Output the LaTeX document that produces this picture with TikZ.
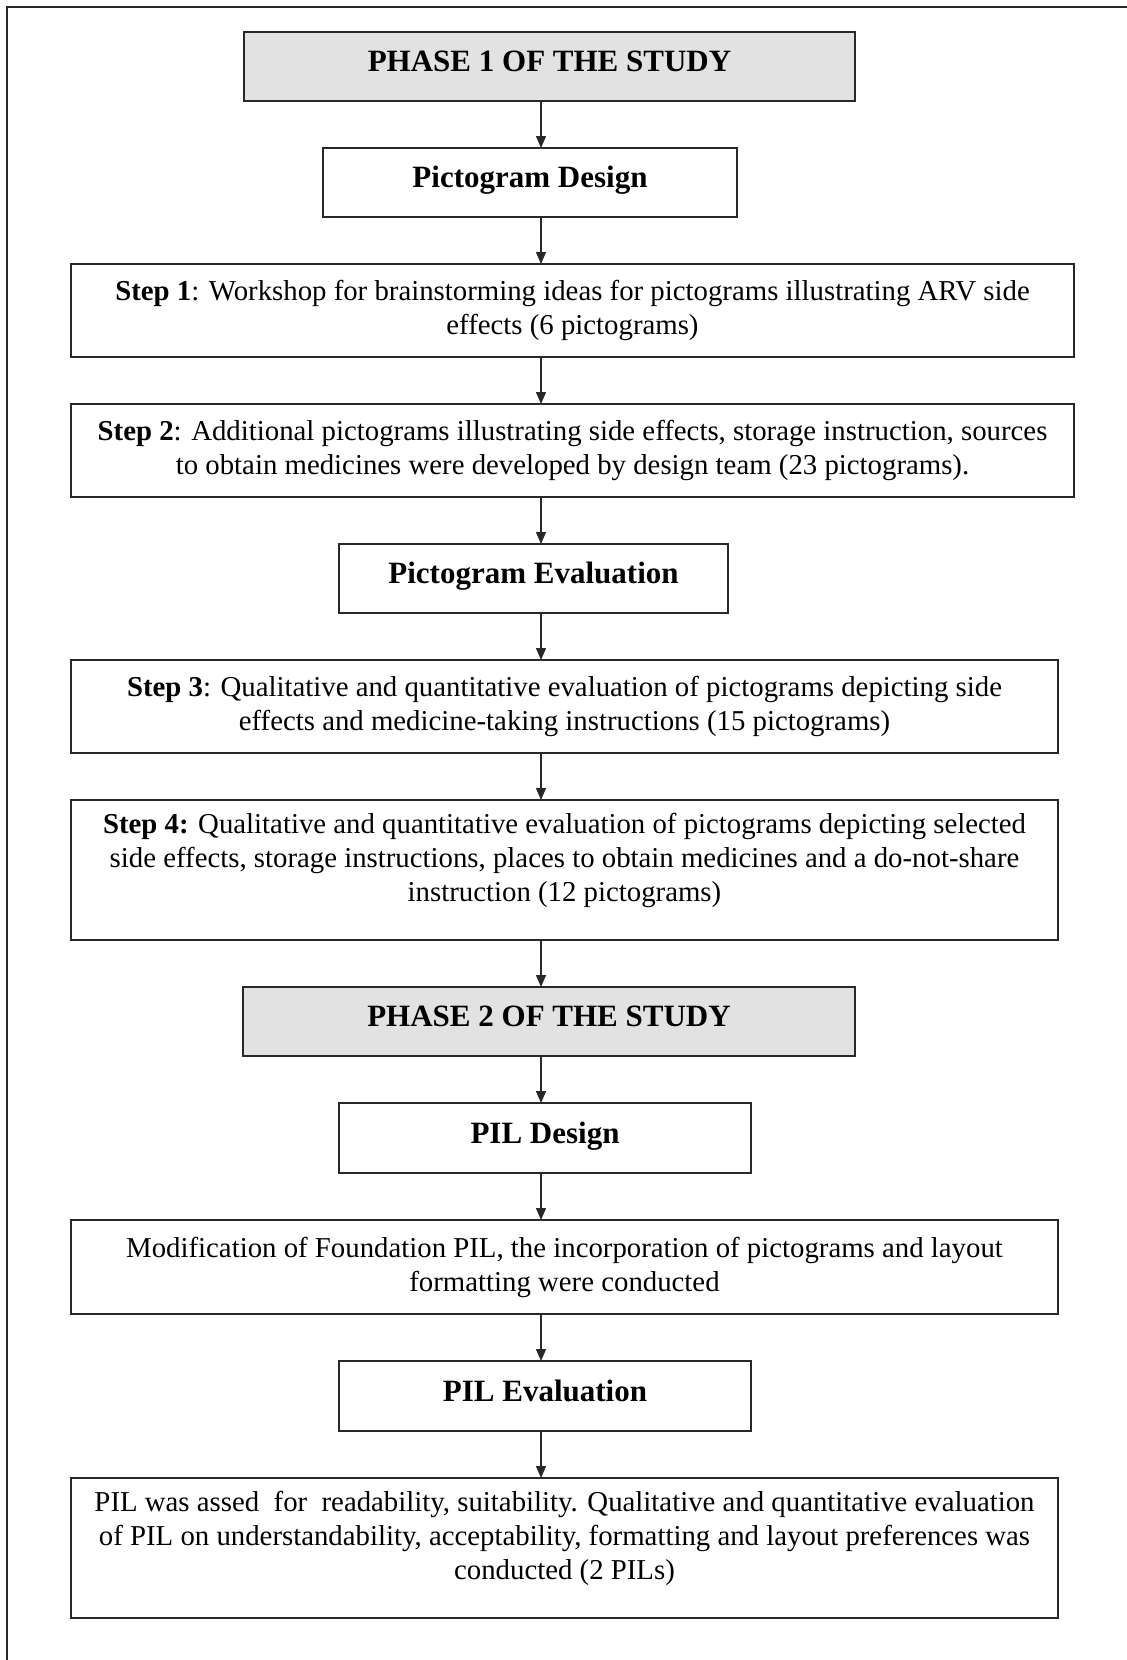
\documentclass[tikz,border=0pt]{standalone}
\usepackage{fontspec}
\setmainfont{Liberation Serif}
\usepackage{tikz}
\usetikzlibrary{arrows.meta,positioning}
\definecolor{phasegray}{RGB}{226,226,226}
\definecolor{framegray}{RGB}{40,40,40}

\begin{document}
\begin{tikzpicture}[
        node distance=23.5pt,
        box/.style={draw=framegray,line width=0.9pt,align=center,outer sep=0pt,
                    inner sep=3pt,font=\fontsize{14.4}{17}\selectfont},
        head/.style={box,minimum height=34.5pt,text height=11pt,text depth=6pt,
                     font=\fontsize{15.5}{18}\selectfont\bfseries},
        phase/.style={head,fill=phasegray,minimum width=305.5pt},
        stepbox/.style={box,minimum width=493.5pt,minimum height=46.5pt},
        arr/.style={-{Triangle[length=6pt,width=5pt]},line width=0.7pt,draw=framegray},
      ]
        \useasboundingbox (0,0) rectangle (563.5pt,-830pt);
        \draw[line width=0.9pt,framegray] (3.5pt,-830pt) -- (3.5pt,-3.5pt) -- (563.5pt,-3.5pt);
        \coordinate (spine) at (270.5pt,0);
        \node[phase](ph1) at (274.75pt,-33.25pt){PHASE 1 OF THE STUDY};
        \node[head,minimum width=207pt,below=of ph1,xshift=-9.75pt](pdes){Pictogram Design};
        \node[stepbox,minimum width=501.5pt,below=of pdes,xshift=21.25pt](s1){\textbf{Step 1}: Workshop for brainstorming ideas for pictograms illustrating ARV side\\effects (6 pictograms)};
        \node[stepbox,minimum width=501.5pt,below=of s1](s2){\textbf{Step 2}: Additional pictograms illustrating side effects, storage instruction, sources\\to obtain medicines were developed by design team (23 pictograms).};
        \node[head,minimum width=194.5pt,below=of s2,xshift=-19.5pt](peval){Pictogram Evaluation};
        \node[stepbox,below=of peval,xshift=15.5pt](s3){\textbf{Step 3}: Qualitative and quantitative evaluation of pictograms depicting side\\effects and medicine-taking instructions (15 pictograms)};
        \node[stepbox,minimum height=70pt,below=of s3](s4){\textbf{Step 4:} Qualitative and quantitative evaluation of pictograms depicting selected\\side effects, storage instructions, places to obtain medicines and a do-not-share\\instruction (12 pictograms)\rule[-12.5pt]{0pt}{12.5pt}};
        \node[phase,minimum width=306pt,below=of s4,xshift=-7.75pt](ph2){PHASE 2 OF THE STUDY};
        \node[head,minimum width=206pt,minimum height=35pt,below=of ph2,xshift=-2pt](pild){PIL Design};
        \node[stepbox,minimum height=47pt,below=of pild,xshift=9.75pt](mod){Modification of Foundation PIL, the incorporation of pictograms and layout\\formatting were conducted};
        \node[head,minimum width=206pt,minimum height=35pt,below=of mod,xshift=-9.75pt](pile){PIL Evaluation};
        \node[stepbox,minimum height=70pt,below=of pile,xshift=9.75pt](last){PIL was assed~ for~ readability, suitability. Qualitative and quantitative evaluation\\of PIL on understandability, acceptability, formatting and layout preferences was\\conducted (2 PILs)\rule[-12.5pt]{0pt}{12.5pt}};
        \draw[arr](ph1.south -| spine)--(pdes.north -| spine);
        \draw[arr](pdes.south -| spine)--(s1.north -| spine);
        \draw[arr](s1.south -| spine)--(s2.north -| spine);
        \draw[arr](s2.south -| spine)--(peval.north -| spine);
        \draw[arr](peval.south -| spine)--(s3.north -| spine);
        \draw[arr](s3.south -| spine)--(s4.north -| spine);
        \draw[arr](s4.south -| spine)--(ph2.north -| spine);
        \draw[arr](ph2.south -| spine)--(pild.north -| spine);
        \draw[arr](pild.south -| spine)--(mod.north -| spine);
        \draw[arr](mod.south -| spine)--(pile.north -| spine);
        \draw[arr](pile.south -| spine)--(last.north -| spine);
      \end{tikzpicture}
\end{document}
